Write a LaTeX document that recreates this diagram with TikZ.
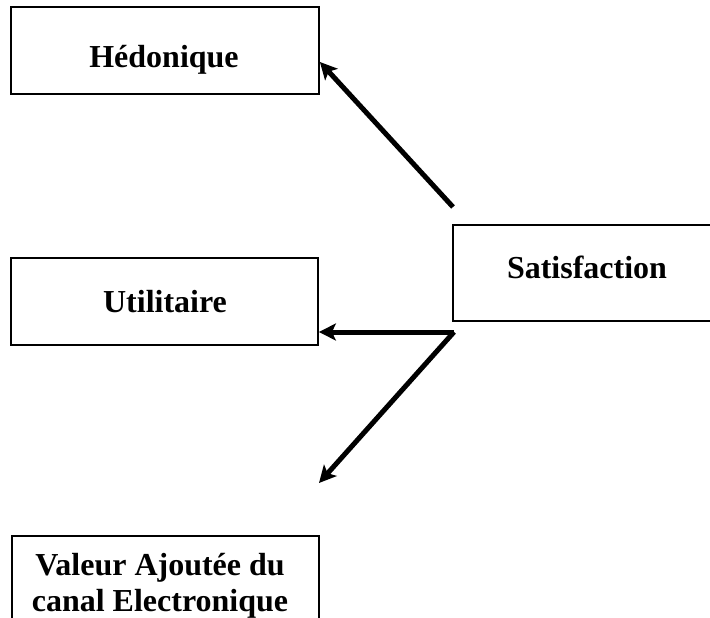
\documentclass[tikz,border=0pt]{standalone}
\usepackage{fontspec}
\setmainfont{Liberation Serif}
\usetikzlibrary{arrows.meta}

\tikzset{
  box/.style={draw, line width=1.8pt, inner sep=0pt},
  lbl/.style={font=\fontsize{32}{36}\selectfont\bfseries, anchor=base, align=center},
  link/.style={line width=5pt, -{Stealth[length=17pt,width=17pt,inset=4pt]}},
}

\begin{document}
\begin{tikzpicture}[x=1pt,y=-1pt]
    \useasboundingbox (0,0) rectangle (710,618);
    \clip (0,0) rectangle (710,618);

    % the four boxes
    \node[box, minimum width=308pt, minimum height=87pt] (hed) at (165,50.5) {};
    \node[box, minimum width=307pt, minimum height=87pt] (util) at (164.5,301.5) {};
    \node[box, minimum width=300pt, minimum height=96pt, anchor=north west] (sat) at (452,224) {};
    \node[box, minimum width=307pt, minimum height=120pt, anchor=north west] (val) at (11,535) {};

    % texts
    \node[lbl] (hedtxt) at (164,67) {Hédonique};
    \node[lbl] (sattxt) at (587,278) {Satisfaction};
    \node[lbl] (utiltxt) at (165,312) {Utilitaire};
    \node[lbl] (valtxt) at (160,611) {Valeur Ajoutée du\\canal Electronique};

    % free ends of the arrows
    \coordinate (s1) at (453,207);
    \coordinate (s2) at (454,332);
    \coordinate (tip3) at (319,483);

    \draw[link] (s1) -- ([yshift=-11.5pt]hed.east);
    \draw[link] (s2) -- ([yshift=-30.5pt]util.east);
    \draw[link] (s2) -- (tip3);
\end{tikzpicture}
\end{document}
